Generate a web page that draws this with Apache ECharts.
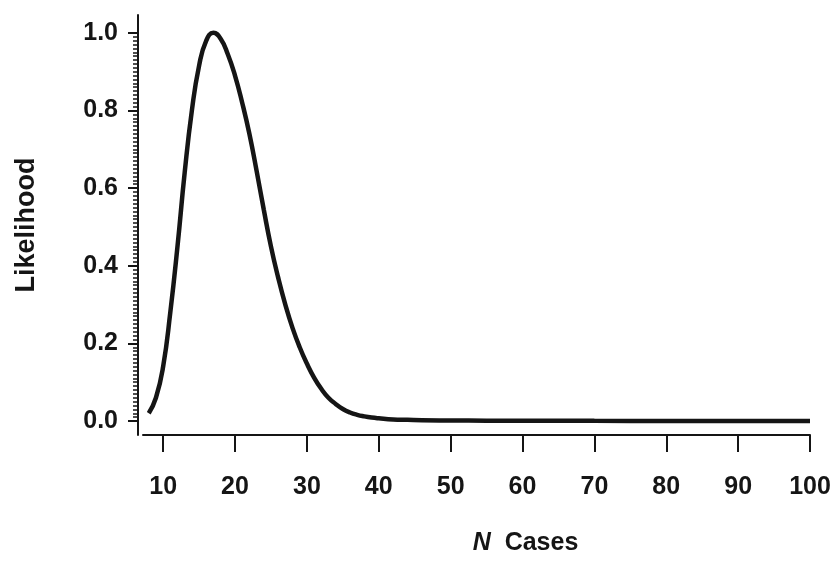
<!DOCTYPE html>
<html>
<head>
<meta charset="utf-8">
<script src="https://cdn.jsdelivr.net/npm/echarts@6/dist/echarts.min.js"></script>
<style>
  html, body { margin: 0; padding: 0; background: #fff; }
  #chart { width: 836px; height: 561px; }
</style>
</head>
<body>
<div id="chart"></div>
<script>
  // N cases vs likelihood
  const nCases = [8, 9, 10, 11, 12, 13, 14, 15, 16, 17, 18, 19, 20, 21, 22, 23, 24, 25, 26, 27, 28, 29, 30,
    31, 32, 33, 34, 35, 36, 37, 38, 39, 40, 42, 44, 46, 50, 55, 60, 70, 80, 90, 100];
  const likelihood = [0.02, 0.06, 0.14, 0.28, 0.45, 0.64, 0.8, 0.915, 0.98, 1.0, 0.985, 0.945, 0.89, 0.82, 0.74, 0.645, 0.545, 0.45, 0.37, 0.3, 0.24, 0.19, 0.148,
    0.112, 0.083, 0.06, 0.044, 0.031, 0.022, 0.016, 0.012, 0.009, 0.007, 0.004, 0.003, 0.002, 0.0015, 0.001, 0.001, 0.0005, 0.0003, 0.0002, 0.0001];
  const yTickValues = [0, 0.2, 0.4, 0.6, 0.8, 1.0];
  const xTickValues = [10, 20, 30, 40, 50, 60, 70, 80, 90, 100];

  const minorY = [];
  for (let i = 0; i <= 100; i += 1) minorY.push(i / 100);

  const font = 'Liberation Sans, Arial, sans-serif';
  const ink = '#151515';

  const chart = echarts.init(document.getElementById('chart'));
  chart.setOption({
    animation: false,
    grid: { left: 143, right: 26, top: 15, bottom: 124 },
    xAxis: {
      type: 'value',
      min: 7.2,
      max: 100,
      name: '{i|N}  Cases',
      nameLocation: 'middle',
      nameGap: 96,
      nameTextStyle: {
        color: ink, fontFamily: font, fontSize: 25, fontWeight: 'bold',
        padding: [0, 0, 0, 98],
        rich: { i: { fontStyle: 'italic', fontWeight: 'bold', fontSize: 25, fontFamily: font, color: ink } }
      },
      axisLine: { show: true, onZero: false, lineStyle: { color: ink, width: 2 } },
      axisTick: { show: true, customValues: xTickValues, length: 17, lineStyle: { color: ink, width: 2 } },
      axisLabel: { customValues: xTickValues, margin: 40, color: ink, fontFamily: font, fontSize: 25, fontWeight: 'bold' },
      splitLine: { show: false }
    },
    yAxis: [
      {
        type: 'value',
        min: -0.036,
        max: 1.046,
        offset: 5,
        name: 'Likelihood',
        nameLocation: 'middle',
        nameGap: 98,
        nameTextStyle: { color: ink, fontFamily: font, fontSize: 27, fontWeight: 'bold' },
        axisLine: { show: true, onZero: false, lineStyle: { color: ink, width: 2 } },
        axisTick: { show: true, customValues: yTickValues, length: 10, lineStyle: { color: ink, width: 2 } },
        axisLabel: {
          customValues: yTickValues, margin: 20, color: ink, fontFamily: font, fontSize: 25, fontWeight: 'bold',
          formatter: (v) => v.toFixed(1)
        },
        splitLine: { show: false }
      },
      {
        type: 'value',
        min: -0.036,
        max: 1.046,
        offset: 5,
        position: 'left',
        axisLine: { show: false },
        axisTick: { show: true, customValues: minorY, length: 5, lineStyle: { color: ink, width: 1.5 } },
        axisLabel: { show: false },
        splitLine: { show: false }
      }
    ],
    series: [
      {
        type: 'line',
        smooth: 0.5,
        symbol: 'none',
        lineStyle: { color: ink, width: 4.5 },
        data: nCases.map((n, i) => [n, likelihood[i]])
      }
    ]
  });
</script>
</body>
</html>
